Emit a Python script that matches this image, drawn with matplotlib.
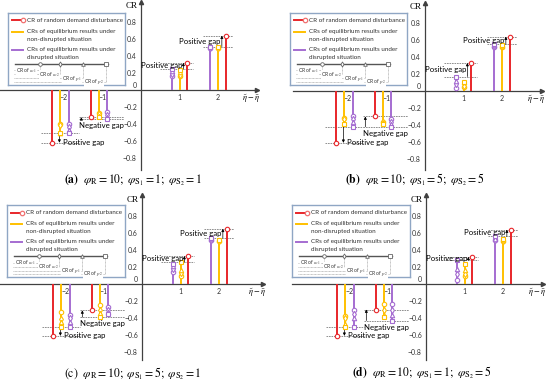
import matplotlib
matplotlib.use('Agg')
import matplotlib.pyplot as plt

plt.rcParams['font.family'] = ['Lato', 'DejaVu Sans']
plt.rcParams['mathtext.fontset'] = 'stix'

RED = '#E8262A'
YEL = '#FFC000'
PUR = '#A56CD1'
AXC = '#404040'

groups = [-2, -1, 1, 2]
xticklabels = ['\u22122', '\u22121', '1', '2']
yticks = [-0.8, -0.6, -0.4, -0.2, 0.2, 0.4, 0.6, 0.8]
markers = ['o', 'd', '^', 's']   # CR of w1, w2, p1, p2

# (a) phi_R=10, phi_S1=1, phi_S2=1
red_a = [-0.62, -0.32, 0.32, 0.64]
yel_a = [[-0.40, -0.41, -0.50, -0.51], [-0.27, -0.28, -0.31, -0.32],
         [0.16, 0.18, 0.21, 0.23], [0.50, 0.50, 0.51, 0.51]]
pur_a = [[-0.40, -0.44, -0.47, -0.50], [-0.26, -0.29, -0.32, -0.34],
         [0.16, 0.19, 0.22, 0.25], [0.50, 0.50, 0.51, 0.51]]

# (b) phi_R=10, phi_S1=5, phi_S2=5
red_b = [-0.61, -0.30, 0.33, 0.64]
yel_b = [[-0.32, -0.33, -0.38, -0.39], [-0.36, -0.37, -0.38, -0.39],
         [0.05, 0.06, 0.10, 0.11], [0.52, 0.53, 0.53, 0.54]]
pur_b = [[-0.30, -0.33, -0.37, -0.42], [-0.33, -0.36, -0.39, -0.42],
         [0.04, 0.08, 0.12, 0.17], [0.52, 0.53, 0.54, 0.55]]

# (c) phi_R=10, phi_S1=5, phi_S2=1
red_c = [-0.61, -0.31, 0.33, 0.65]
yel_c = [[-0.33, -0.41, -0.45, -0.50], [-0.25, -0.30, -0.34, -0.39],
         [0.09, 0.13, 0.17, 0.26], [0.51, 0.51, 0.52, 0.52]]
pur_c = [[-0.37, -0.40, -0.45, -0.50], [-0.27, -0.30, -0.33, -0.35],
         [0.14, 0.18, 0.21, 0.24], [0.52, 0.52, 0.53, 0.54]]

# (d) phi_R=10, phi_S1=1, phi_S2=5
red_d = [-0.61, -0.30, 0.32, 0.64]
yel_d = [[-0.38, -0.40, -0.47, -0.50], [-0.24, -0.30, -0.36, -0.39],
         [0.09, 0.12, 0.16, 0.24], [0.51, 0.51, 0.52, 0.53]]
pur_d = [[-0.30, -0.35, -0.40, -0.50], [-0.24, -0.30, -0.36, -0.43],
         [0.05, 0.12, 0.18, 0.28], [0.52, 0.52, 0.53, 0.56]]

captions = [
    r'$\mathbf{(a)}\ \ \varphi_{\mathrm{R}}=10;\ \varphi_{\mathrm{S}_1}=1;\ \varphi_{\mathrm{S}_2}=1$',
    r'$\mathbf{(b)}\ \ \varphi_{\mathrm{R}}=10;\ \varphi_{\mathrm{S}_1}=5;\ \varphi_{\mathrm{S}_2}=5$',
    r'$\mathrm{(c)}\ \ \varphi_{\mathrm{R}}=10;\ \varphi_{\mathrm{S}_1}=5;\ \varphi_{\mathrm{S}_2}=1$',
    r'$\mathbf{(d)}\ \ \varphi_{\mathrm{R}}=10;\ \varphi_{\mathrm{S}_1}=1;\ \varphi_{\mathrm{S}_2}=5$',
]

# layout in pixels (figure 550x385)
W, H = 550, 385
SX, SY = 38.5, 85.0
panels = [
    dict(ox=141, oy=90, xl=0, xr=257, yt=2, yb=170, box=(8, 13, 117, 72), cap=(133, 180)),
    dict(ox=425, oy=91, xl=293, xr=542, yt=3, yb=170, box=(290, 13, 117, 72), cap=(415, 180)),
    dict(ox=142, oy=284, xl=0, xr=263, yt=195, yb=360, box=(7, 205, 118, 72), cap=(133, 374)),
    dict(ox=426, oy=284, xl=292, xr=543, yt=195, yb=360, box=(292, 205, 118, 72), cap=(422, 373)),
]
data = [(red_a, yel_a, pur_a), (red_b, yel_b, pur_b),
        (red_c, yel_c, pur_c), (red_d, yel_d, pur_d)]


def stem(ax, x, vals, color, mfc='white'):
    top = max(vals, key=abs)
    ax.vlines(x, 0, top, color=color, lw=1.4, zorder=3)
    for v, m in zip(vals, markers):
        ax.plot(x, v, m, ms=3.2, mfc=mfc, mec=color, mew=0.8, zorder=4)


def gap(ax, g, r, o):
    label = 'Positive gap' if abs(r) > abs(o) else 'Negative gap'
    if g == 2:
        xs, axx, tx, ty, ha = (1.6, 2.4), 2.1, 2.05, (r + o) / 2, 'right'
    elif g == 1:
        xs, axx, tx, ty, ha = (0.5, 1.35), 1.1, 1.08, (r + o) / 2, 'right'
    elif g == -2:
        xs, axx, tx, ty, ha = (-2.6, -1.6), -2.12, -2.02, r + 0.05 * (o - r), 'left'
    else:
        xs, axx, tx, ty, ha = (-1.6, -0.45), -1.55, -1.62, min(r, o) - 0.08, 'left'
    ax.hlines([r, o], xs[0], xs[1], colors='#7f7f7f', lw=0.6, linestyles=(0, (2, 1)), zorder=2)
    ax.annotate('', xy=(axx, r), xytext=(axx, o),
                arrowprops=dict(arrowstyle='-|>', lw=0.5, color='black',
                                mutation_scale=4, shrinkA=0, shrinkB=0))
    ax.text(tx, ty, label, ha=ha, va='center', fontsize=5.6, zorder=5)


def legend_box(fig, box):
    x0, y0, w, h = box
    lg = fig.add_axes([x0 / W, 1 - (y0 + h) / H, w / W, h / H])
    lg.set_xlim(0, w)
    lg.set_ylim(h, 0)
    lg.set_xticks([])
    lg.set_yticks([])
    for s in lg.spines.values():
        s.set_edgecolor('#8FA6C4')
        s.set_linewidth(1.0)
    fs = 4.5
    tc = '#333333'
    lg.plot([4, 15], [7.5, 7.5], color=RED, lw=1.4)
    lg.plot(15, 7.5, 'o', ms=3.2, mfc='white', mec='#F07070', mew=0.9)
    lg.text(19, 7.5, 'CR of random demand disturbance', fontsize=fs, va='center', color=tc)
    lg.plot([4, 15], [19, 19], color=YEL, lw=1.4)
    lg.text(19, 19, 'CRs of equilibrium results under', fontsize=fs, va='center', color=tc)
    lg.text(19, 26.5, 'non-disrupted situation', fontsize=fs, va='center', color=tc)
    lg.plot([4, 15], [37, 37], color=PUR, lw=1.4)
    lg.text(19, 37, 'CRs of equilibrium results under', fontsize=fs, va='center', color=tc)
    lg.text(19, 44.5, 'disrupted situation', fontsize=fs, va='center', color=tc)
    # small diagram
    lg.plot([7, 100], [51, 51], color='#555555', lw=1.0)
    mxs = [32, 52, 75, 98]
    lys = [57.5, 61.5, 65.5, 69]
    labs = [r'CR of $\omega_1$', r'CR of $\omega_2$', r'CR of $p_1$', r'CR of $p_2$']
    lxs = [8, 31, 54, 76]
    for mx, ly, lab, lx, m in zip(mxs, lys, labs, lxs, markers):
        lg.plot([mx, mx], [51, ly], color='#888888', lw=0.4, ls=(0, (1.5, 1)))
        lg.plot([6, mx], [ly, ly], color='#888888', lw=0.4, ls=(0, (1.5, 1)))
        lg.plot(mx, 51, m, ms=2.6, mfc='white', mec='#666666', mew=0.6)
        lg.text(lx, ly, lab, fontsize=3.6, va='center', ha='left', color=tc,
                bbox=dict(fc='white', ec='none', pad=0.1))


fig = plt.figure(figsize=(W / 100, H / 100), dpi=100)

for p, (red, yel, pur), cap in zip(panels, data, captions):
    ax = fig.add_axes([p['xl'] / W, 1 - p['yb'] / H,
                       (p['xr'] - p['xl']) / W, (p['yb'] - p['yt']) / H])
    ax.set_facecolor('none')
    ax.set_xlim((p['xl'] - p['ox']) / SX, (p['xr'] - p['ox']) / SX)
    ax.set_ylim((p['oy'] - p['yb']) / SY, (p['oy'] - p['yt']) / SY)
    for s in ['top', 'right']:
        ax.spines[s].set_visible(False)
    for s in ['left', 'bottom']:
        ax.spines[s].set_position(('data', 0))
        ax.spines[s].set_color(AXC)
        ax.spines[s].set_linewidth(0.9)
    ax.plot(1, 0, '>', color=AXC, ms=3, transform=ax.get_yaxis_transform(), clip_on=False)
    ax.plot(0, 1, '^', color=AXC, ms=3, transform=ax.get_xaxis_transform(), clip_on=False)
    ax.set_xticks(groups)
    ax.set_xticklabels(xticklabels)
    ax.set_yticks(yticks)
    ax.set_yticklabels(['\u2212%.1f' % -t if t < 0 else '%.1f' % t for t in yticks])
    ax.tick_params(length=0, labelsize=5, pad=3, colors='#333333')
    ax.text(-0.12, 0.05, '0', ha='right', va='center', fontsize=5, color='#333333')
    ax.text(-0.1, 0.99, 'CR', ha='right', va='center', fontsize=6.5, family='Liberation Serif')
    ax.text(ax.get_xlim()[1] - 0.15, -0.1, r'$\tilde{\eta}-\bar{\eta}$', ha='center',
            va='center', fontsize=6)

    for i, g in enumerate(groups):
        if g > 0:
            xr, xy, xp = g + 0.2, g, g - 0.2
        else:
            xr, xy, xp = g - 0.3, g - 0.1, g + 0.12
        stem(ax, xr, [red[i]], RED, mfc='white')
        stem(ax, xy, yel[i], YEL)
        stem(ax, xp, pur[i], PUR)
        o = max(yel[i] + pur[i], key=abs)
        gap(ax, g, red[i], o)

    legend_box(fig, p['box'])
    fig.text(p['cap'][0] / W, 1 - p['cap'][1] / H, cap,
             ha='center', va='center', fontsize=8.5)

fig.savefig('out.png', dpi=100)
